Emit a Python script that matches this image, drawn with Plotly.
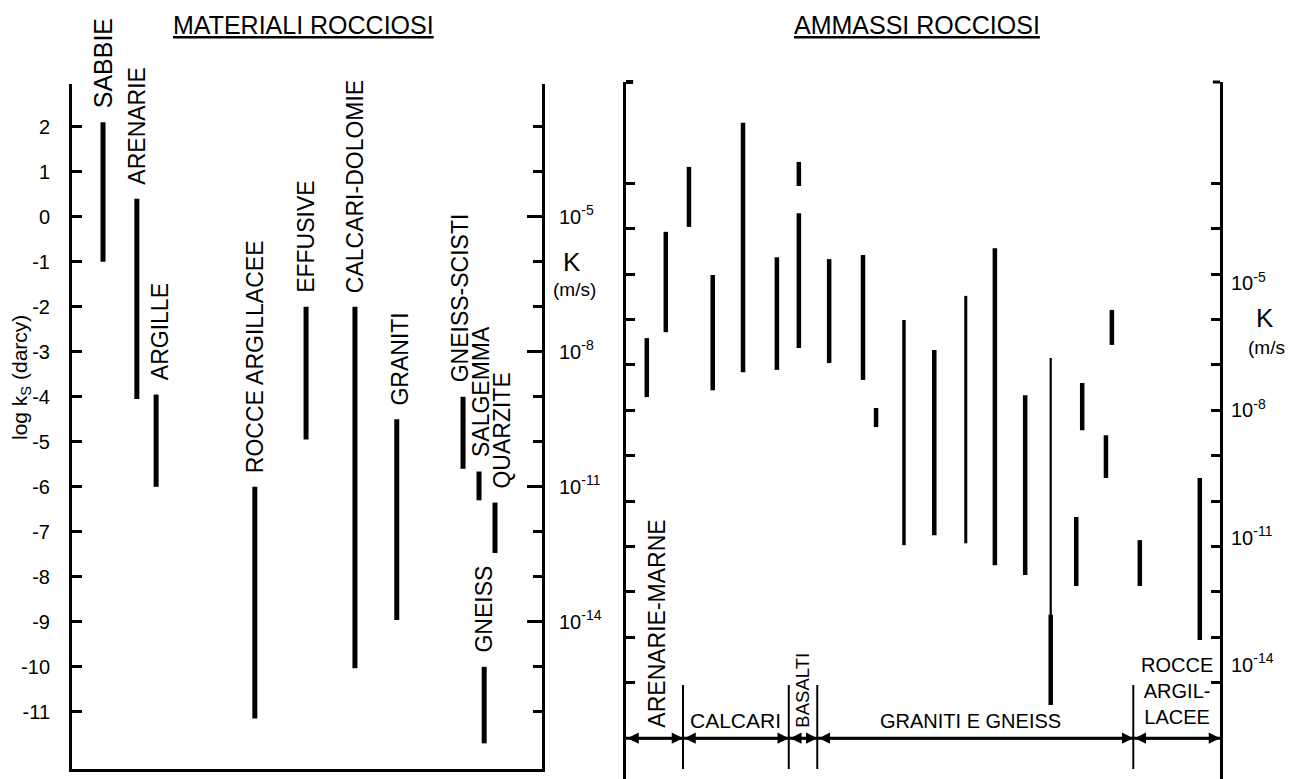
import plotly.graph_objects as go

W, H = 1295, 779
FONT = "Liberation Sans, Arial, sans-serif"

# ---------------- DATA ----------------
# Left panel: MATERIALI ROCCIOSI  (log k_S, darcy)
mat_names = ["SABBIE", "ARENARIE", "ARGILLE", "ROCCE ARGILLACEE", "EFFUSIVE",
             "CALCARI-DOLOMIE", "GRANITI", "GNEISS-SCISTI", "SALGEMMA", "QUARZITE", "GNEISS"]
mat_pos = [6.6, 13.8, 17.9, 38.9, 49.8, 60.2, 69.1, 83.2, 86.6, 90.0, 87.7]
mat_top = [2.1, 0.4, -3.95, -6.0, -2.0, -2.0, -4.5, -4.0, -5.66, -6.35, -10.0]
mat_bot = [-1.0, -4.05, -6.0, -11.15, -4.95, -10.03, -8.96, -5.6, -6.3, -7.47, -11.7]

# Left axis ticks (log darcy) and K ticks (m/s)
logk_ticks = list(range(2, -12, -1))
k_major = [-5, -8, -11, -14]

# Right panel: AMMASSI ROCCIOSI  (log K, m/s)
mass_pos = [3.5, 6.7, 10.6, 14.6, 19.7, 25.4, 29.1, 29.1, 34.2, 39.9, 42.1, 46.8,
            51.9, 57.2, 62.1, 67.2, 71.5, 76.8, 75.8, 80.8, 81.8, 86.5, 96.6]
mass_top = [-6.41, -4.07, -2.64, -5.02, -1.67, -4.63, -2.53, -3.66, -4.67, -4.58, -7.95, -6.01,
            -6.67, -5.48, -4.43, -7.67, -6.85, -7.40, -10.35, -8.55, -5.79, -10.86, -9.49]
mass_bot = [-7.71, -6.28, -3.96, -7.56, -7.16, -7.11, -3.06, -6.63, -6.96, -7.33, -8.37, -10.97,
            -10.75, -10.93, -11.41, -11.63, -14.49, -8.44, -11.87, -9.49, -6.56, -11.87, -13.06]

group_names = ["ARENARIE-MARNE", "CALCARI", "BASALTI", "GRANITI E GNEISS", "ROCCE<br>ARGIL-<br>LACEE"]
group_edges = [0, 9.6, 27.4, 32.2, 85.4, 100]

K_ticks_right = list(range(-3, -15, -1))

# ---------------- STYLE ----------------
mat_lw = 5
mat_label_xshift = [0, 0, 4, 0, 0, 0, 3, -3, 2, 7, 0]
mat_label_size = [25, 23, 23, 23, 23, 23, 23, 23, 23, 23, 23]
mass_lw = [4.5] * len(mass_pos)
mass_lw[16] = 2.2
mass_lw[13] = 3
mass_lw[11] = 3.5
group_rot = [True, False, True, False, False]
group_font = [23, 21, 18.5, 20, 20]
group_xshift = [3, 0, 0, -5, 0]
base_logK = -15.22
div_top, div_bot = -14.05, -15.9

L_dom_x = [72 / W, 542 / W]
L_dom_y = [1 - 769 / H, 1 - 84 / H]
L_range = [-12.27, 2.95]
R_dom_x = [626 / W, 1220 / W]
R_dom_y = [0, 1 - 82 / H]
R_range = [-16.12, -0.77]
R_label_range = [-16.69, -0.264]   # right-hand K labels are printed on a slightly tighter scale

fig = go.Figure()

# left panel bars
for p, t, b in zip(mat_pos, mat_top, mat_bot):
    fig.add_trace(go.Scatter(x=[p, p], y=[b, t], mode="lines", xaxis="x", yaxis="y",
                             line=dict(color="black", width=mat_lw), showlegend=False,
                             hoverinfo="skip"))
# right panel bars
for p, t, b, lw in zip(mass_pos, mass_top, mass_bot, mass_lw):
    fig.add_trace(go.Scatter(x=[p, p], y=[b, t], mode="lines", xaxis="x2", yaxis="y3",
                             line=dict(color="black", width=lw), showlegend=False,
                             hoverinfo="skip"))
# thick lower portion of the long thin bar
fig.add_trace(go.Scatter(x=[mass_pos[16]] * 2, y=[mass_bot[16], -12.5], mode="lines",
                         xaxis="x2", yaxis="y3", line=dict(color="black", width=4.5),
                         showlegend=False, hoverinfo="skip"))
# invisible anchors so the secondary (K) axes are drawn
for xa, ya in (("x", "y2"), ("x2", "y4"), ("x2", "y5")):
    fig.add_trace(go.Scatter(x=[50], y=[-8], xaxis=xa, yaxis=ya, mode="markers",
                             marker=dict(opacity=0), showlegend=False, hoverinfo="skip"))

ann = []
for n, p, t, xs, fs in zip(mat_names, mat_pos, mat_top, mat_label_xshift, mat_label_size):
    ann.append(dict(x=p, y=t, xref="x", yref="y", text=n, textangle=-90, showarrow=False,
                    xanchor="center", yanchor="bottom", yshift=12, xshift=xs,
                    font=dict(family=FONT, size=fs, color="black")))

# group labels and arrows in right panel
for i, n in enumerate(group_names):
    a, b = group_edges[i], group_edges[i + 1]
    mid = (a + b) / 2
    f = dict(family=FONT, size=group_font[i], color="black")
    if group_rot[i]:
        ann.append(dict(x=mid, y=base_logK, xref="x2", yref="y3", text=n, textangle=-90,
                        showarrow=False, xanchor="center", yanchor="bottom", yshift=8,
                        xshift=group_xshift[i], font=f))
    else:
        ann.append(dict(x=mid, y=base_logK, xref="x2", yref="y3", text=n, showarrow=False,
                        xanchor="center", yanchor="bottom", yshift=4 if "<br>" not in n else 8,
                        xshift=group_xshift[i], font=f))
    ann.append(dict(x=b, y=base_logK, ax=a, ay=base_logK, xref="x2", yref="y3",
                    axref="x2", ayref="y3", text="", showarrow=True, arrowhead=2,
                    arrowside="end+start", arrowwidth=2.5, arrowsize=0.9, arrowcolor="black"))

# titles
ann.append(dict(x=303 / W, y=1 - 25 / H, xref="paper", yref="paper",
                text="<u>MATERIALI ROCCIOSI</u>", showarrow=False, xanchor="center",
                yanchor="middle", font=dict(family=FONT, size=25, color="black")))
ann.append(dict(x=917 / W, y=1 - 25 / H, xref="paper", yref="paper",
                text="<u>AMMASSI ROCCIOSI</u>", showarrow=False, xanchor="center",
                yanchor="middle", font=dict(family=FONT, size=25, color="black")))
ann.append(dict(x=21 / W, y=1 - 378 / H, xref="paper", yref="paper",
                text="log k<sub>S</sub> (darcy)", textangle=-90, showarrow=False,
                xanchor="center", yanchor="middle", font=dict(family=FONT, size=21, color="black")))
# K labels
ann.append(dict(x=572 / W, y=1 - 262 / H, xref="paper", yref="paper", text="K", showarrow=False,
                xanchor="center", yanchor="middle", font=dict(family=FONT, size=26, color="black")))
ann.append(dict(x=574 / W, y=1 - 290 / H, xref="paper", yref="paper", text="(m/s)", showarrow=False,
                xanchor="center", yanchor="middle", font=dict(family=FONT, size=19, color="black")))
ann.append(dict(x=1265 / W, y=1 - 318 / H, xref="paper", yref="paper", text="K", showarrow=False,
                xanchor="center", yanchor="middle", font=dict(family=FONT, size=26, color="black")))
ann.append(dict(x=1266 / W, y=1 - 347 / H, xref="paper", yref="paper", text="(m/s", showarrow=False,
                xanchor="center", yanchor="middle", font=dict(family=FONT, size=19, color="black")))

shapes = [dict(type="line", xref="x2", yref="y3", x0=0, x1=100, y0=base_logK, y1=base_logK,
               line=dict(color="black", width=3))]
for e in group_edges[1:-1]:
    shapes.append(dict(type="line", xref="x2", yref="y3", x0=e, x1=e, y0=div_bot, y1=div_top,
                       line=dict(color="black", width=2)))
# top caps of right panel axes
shapes.append(dict(type="line", xref="x2 domain", yref="y3 domain", x0=0, x1=0.012, y0=1, y1=1,
                   line=dict(color="black", width=4)))
shapes.append(dict(type="line", xref="x2 domain", yref="y3 domain", x0=1, x1=0.988, y0=1, y1=1,
                   line=dict(color="black", width=3)))

tickfont = dict(family=FONT, size=20, color="black")
fig.update_layout(
    width=W, height=H, autosize=False,
    margin=dict(l=0, r=0, t=0, b=0),
    paper_bgcolor="white", plot_bgcolor="white",
    showlegend=False,
    xaxis=dict(domain=L_dom_x, range=[0, 100], anchor="y", showline=True, linecolor="black",
               linewidth=3, showgrid=False, zeroline=False, ticks="", showticklabels=False),
    yaxis=dict(domain=L_dom_y, range=L_range, anchor="x", showline=True, linecolor="black",
               linewidth=3, showgrid=False, zeroline=False, ticks="inside", ticklen=10,
               tickwidth=3, tickcolor="black", tickmode="array", tickvals=logk_ticks,
               ticktext=[str(v) for v in logk_ticks],
               tickfont=tickfont, ticklabelstandoff=15),
    yaxis2=dict(domain=L_dom_y, range=[L_range[0] - 5, L_range[1] - 5], anchor="x",
                overlaying="y", side="right", showline=True, linecolor="black", linewidth=3,
                showgrid=False, zeroline=False, ticks="inside", ticklen=15, tickwidth=3,
                tickcolor="black", tickmode="array", tickvals=k_major,
                ticktext=["10<sup>%d</sup>" % v for v in k_major], tickfont=tickfont,
                ticklabelstandoff=10,
                minor=dict(ticks="inside", ticklen=9, tickwidth=2.5, tickcolor="black",
                           tickmode="array", tickvals=[v - 5 for v in logk_ticks])),
    xaxis2=dict(domain=R_dom_x, range=[0, 100], anchor="y3", showline=False, showgrid=False,
                zeroline=False, ticks="", showticklabels=False),
    yaxis3=dict(domain=R_dom_y, range=R_range, anchor="x2", showline=True, linecolor="black",
                linewidth=3, showgrid=False, zeroline=False, ticks="inside", ticklen=9,
                tickwidth=3, tickcolor="black", tickmode="array", tickvals=K_ticks_right,
                showticklabels=False),
    yaxis4=dict(domain=R_dom_y, range=R_range, anchor="x2", overlaying="y3", side="right",
                showline=True, linecolor="black", linewidth=3, showgrid=False, zeroline=False,
                ticks="inside", ticklen=9, tickwidth=3, tickcolor="black", tickmode="array",
                tickvals=K_ticks_right, showticklabels=False),
    yaxis5=dict(domain=R_dom_y, range=R_label_range, anchor="x2", overlaying="y3", side="right",
                showline=False, showgrid=False, zeroline=False, ticks="", tickmode="array",
                tickvals=k_major, ticktext=["10<sup>%d</sup>" % v for v in k_major],
                tickfont=tickfont, ticklabelstandoff=10),
    annotations=ann,
    shapes=shapes,
)

fig.write_html("out.html", post_script="document.body.style.margin='0px';",
               config={"displayModeBar": False})
